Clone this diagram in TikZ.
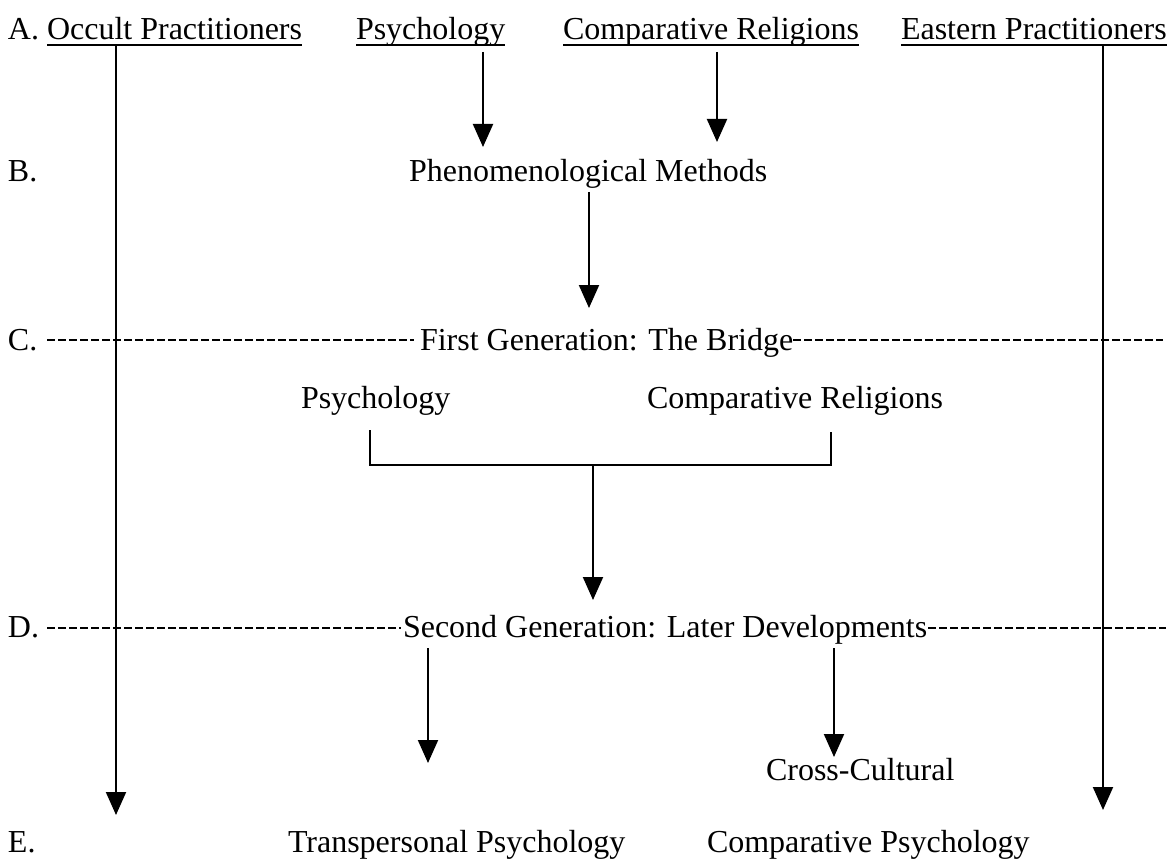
\documentclass[tikz,border=0pt]{standalone}
\usepackage{fontspec}
\setmainfont{Liberation Serif}
\usetikzlibrary{arrows.meta}
\begin{document}
\begin{tikzpicture}[x=1pt,y=-1pt,
  lbl/.style={anchor=base west, inner sep=0pt, outer sep=0pt, font=\fontsize{32}{38}\selectfont},
  conn/.style={line width=2pt},
  arr/.style={line width=2pt, -{Triangle[width=20pt,length=23pt]}},
  dashline/.style={line width=1.6pt, dash pattern=on 8pt off 3pt},
  uline/.style={line width=1.6pt}]
\useasboundingbox (0,0) rectangle (1176,864);
% Row A
\node[lbl] (lA) at (8,40) {A.};
\node[lbl] (occ) at (47,40) {Occult Practitioners};
\node[lbl] (psyA) at (356,40) {Psychology};
\node[lbl] (crA) at (563,40) {Comparative Religions};
\node[lbl] (eas) at (901,40) {Eastern Practitioners};
\foreach \n in {occ,psyA,crA,eas}
  \draw[uline] ([yshift=-5pt]\n.base west) -- ([yshift=-5pt]\n.base east);
% Row B
\node[lbl] (lB) at (8,182) {B.};
\node[lbl] (phen) at (409,182) {Phenomenological Methods};
% Row C
\node[lbl] (lC) at (8,350) {C.};
\node[lbl] (first) at (420,350) {First Generation: The Bridge};
% Row P
\node[lbl] (psyB) at (301,408) {Psychology};
\node[lbl] (crB) at (647,408) {Comparative Religions};
% Row D
\node[lbl] (lD) at (8,637) {D.};
\node[lbl] (second) at (403,637) {Second Generation: Later Developments};
\node[lbl] (cc) at (766,780) {Cross-Cultural};
% Row E
\node[lbl] (lE) at (8,852) {E.};
\node[lbl] (tp) at (288,852) {Transpersonal Psychology};
\node[lbl] (cp) at (707,852) {Comparative Psychology};
% coordinates
\coordinate (occS) at (116,45);  \coordinate (occT) at (116,815);
\coordinate (easS) at (1103,45); \coordinate (easT) at (1103,810);
\coordinate (psyS) at (483,52);  \coordinate (psyT) at (483,147);
\coordinate (crS) at (717,52);   \coordinate (crT) at (717,142);
\coordinate (phS) at (589,192);  \coordinate (phT) at (589,308);
\coordinate (bl) at (370,430); \coordinate (blb) at (370,465);
\coordinate (br) at (831,432); \coordinate (brb) at (831,465);
\coordinate (bmS) at (593,465); \coordinate (bmT) at (593,600);
\coordinate (tpS) at (428,648); \coordinate (tpT) at (428,763);
\coordinate (ccS) at (834,648); \coordinate (ccT) at (834,757);
\coordinate (c1a) at (47,340);  \coordinate (c1b) at (414,340);
\coordinate (c2a) at (793,340); \coordinate (c2b) at (1163,340);
\coordinate (d1a) at (47,628);  \coordinate (d1b) at (401,628);
\coordinate (d2a) at (928,628); \coordinate (d2b) at (1166,628);
% connectors
\draw[arr] (occS) -- (occT);
\draw[arr] (easS) -- (easT);
\draw[arr] (psyS) -- (psyT);
\draw[arr] (crS) -- (crT);
\draw[arr] (phS) -- (phT);
\draw[conn] (bl) -- (blb) -- (brb) -- (br);
\draw[arr] (bmS) -- (bmT);
\draw[arr] (tpS) -- (tpT);
\draw[arr] (ccS) -- (ccT);
\draw[dashline] (c1a) -- (c1b);
\draw[dashline] (c2a) -- (c2b);
\draw[dashline] (d1a) -- (d1b);
\draw[dashline] (d2a) -- (d2b);
\end{tikzpicture}
\end{document}
